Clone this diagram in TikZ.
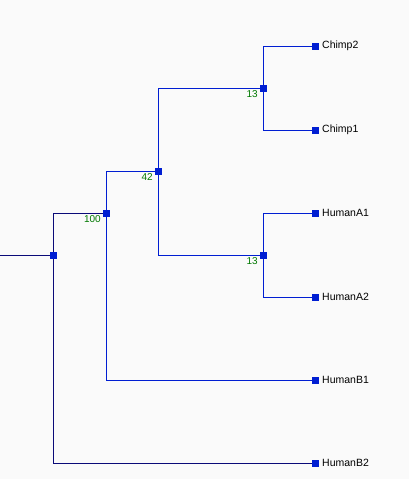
\documentclass[tikz,border=0pt]{standalone}
\usepackage{fontspec}
\setmainfont{Liberation Sans}
\begin{document}
\begin{tikzpicture}[x=1pt,y=-1pt,
  edge/.style={draw={rgb,255:red,0;green,30;blue,210}, line width=1pt},
  rootedge/.style={draw={rgb,255:red,10;green,10;blue,120}, line width=1pt},
  sq/.style={fill={rgb,255:red,0;green,30;blue,210}, minimum size=7pt, inner sep=0pt, outer sep=0pt},
  leaflab/.style={anchor=west, font=\fontsize{10.5}{12}\selectfont, inner sep=0pt},
  numlab/.style={anchor=north east, text={rgb,255:red,0;green,120;blue,0}, font=\fontsize{10}{12}\selectfont, inner sep=0pt}]
\fill[color={rgb,255:red,250;green,250;blue,250}] (0,0) rectangle (409,479);
\useasboundingbox (0,0) rectangle (409,479);
% internal nodes
\node[sq] (r) at (53,255) {};
\node[sq] (n100) at (106,213) {};
\node[sq] (n42) at (158,171) {};
\node[sq] (n13a) at (263,88) {};
\node[sq] (n13b) at (263,255) {};
% leaves
\node[sq] (c2) at (315,46) {};
\node[sq] (c1) at (315,130) {};
\node[sq] (a1) at (315,213) {};
\node[sq] (a2) at (315,297) {};
\node[sq] (b1) at (315,380) {};
\node[sq] (b2) at (315,463) {};
\coordinate (start) at (0,255);
% labels
\node[leaflab] (lc2) at (322,46) {Chimp2};
\node[leaflab] (lc1) at (322,130) {Chimp1};
\node[leaflab] (la1) at (322,213) {HumanA1};
\node[leaflab] (la2) at (322,297) {HumanA2};
\node[leaflab] (lb1) at (322,380) {HumanB1};
\node[leaflab] (lb2) at (322,463) {HumanB2};
\node[numlab] (t100) at (101,215.5) {100};
\node[numlab] (t42) at (153,173.5) {42};
\node[numlab] (t13a) at (258,90.5) {13};
\node[numlab] (t13b) at (258,257.5) {13};
% edges
\draw[rootedge] (start) -- (r.center);
\draw[rootedge] (r.center) |- (n100.center);
\draw[rootedge] (r.center) |- (b2.center);
\draw[edge] (n100.center) |- (n42.center);
\draw[edge] (n100.center) |- (b1.center);
\draw[edge] (n42.center) |- (n13a.center);
\draw[edge] (n42.center) |- (n13b.center);
\draw[edge] (n13a.center) |- (c2.center);
\draw[edge] (n13a.center) |- (c1.center);
\draw[edge] (n13b.center) |- (a1.center);
\draw[edge] (n13b.center) |- (a2.center);
\foreach \n in {r,n100,n42,n13a,n13b,c2,c1,a1,a2,b1,b2}
  \fill[color={rgb,255:red,0;green,30;blue,210}] ([shift={(-3.5,-3.5)}]\n.center) rectangle ([shift={(3.5,3.5)}]\n.center);
\end{tikzpicture}
\end{document}
